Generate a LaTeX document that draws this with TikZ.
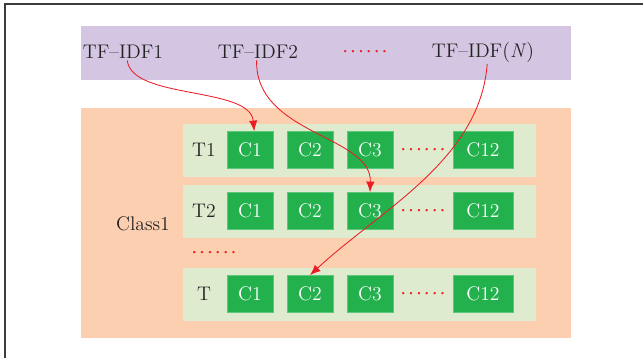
\documentclass[tikz,border=0pt]{standalone}
\usepackage{tikz}
\usetikzlibrary{arrows.meta,positioning}
\definecolor{bandpurple}{RGB}{212,198,226}
\definecolor{classorange}{RGB}{251,207,176}
\definecolor{rowgreen}{RGB}{222,235,206}
\definecolor{cellgreen}{RGB}{34,177,76}
\definecolor{celledge}{RGB}{90,200,120}
\definecolor{linkred}{RGB}{237,28,36}
\definecolor{framegray}{RGB}{60,60,60}
\definecolor{inkdark}{RGB}{35,35,35}

\begin{document}
\begin{tikzpicture}[x=0.025cm, y=-0.025cm,
  label/.style={font=\fontsize{14}{16}\selectfont, text=inkdark, inner sep=1pt},
  cell/.style={draw=celledge, line width=0.5pt, fill=cellgreen, text=white, font=\fontsize{14}{16}\selectfont, minimum width=1.15cm, minimum height=0.925cm, inner sep=0pt},
  reddots/.style={text=linkred, font=\fontsize{10.5}{12}\selectfont\boldmath, inner sep=0pt},
  link/.style={-{Latex[length=7.5pt, width=6pt]}, linkred, line width=0.6pt}]
  \useasboundingbox (0,0) rectangle (643,358);
  \draw[framegray, line width=1.2pt] (5,358) -- (5,4) -- (643,4);

  % TF-IDF band
  \fill[bandpurple] (81,26) rectangle (571,80);
  \node[label] (tf1) at (123,52) {TF--IDF1};
  \node[label] (tf2) at (258,52) {TF--IDF2};
  \node[reddots] (tfdots) at (365,52) {$\cdots\cdots$};
  \node[label] (tfn) at (483,52) {TF--IDF$($\textit{N}$)$};

  % class block with its rows
  \fill[classorange] (81,108) rectangle (571,338);
  \node[label] (class) at (143,224) {Class1};
  \node[reddots] (rowdots) at (214,253) {$\cdots\cdots$};

  \foreach \r/\t/\y in {r1/T1/150, r2/T2/211, rt/T/294} {
    \fill[rowgreen] (183,\y-26) rectangle (536,\y+27);
    \node[label] (\r t) at (204,\y) {\t};
    \node[cell] (\r c1) at (250,\y) {C1};
    \node[cell] (\r c2) at (310,\y) {C2};
    \node[cell] (\r c3) at (370,\y) {C3};
    \node[reddots] (\r dots) at (423,\y) {$\cdots\cdots$};
    \node[cell, minimum width=1.5cm] (\r c12) at (483,\y) {C12};
  }

  % links from the TF-IDF vectors
  \draw[link] ([xshift=3pt]tf1.south) .. controls (132,100) and (250,86) .. ([xshift=3pt]r1c1.north);
  \draw[link] ([xshift=-1pt]tf2.south) .. controls (255,135) and (372,135) .. (r2c3.north);
  \draw[link] ([xshift=3pt]tfn.south) .. controls (480,160) and (380,210) .. (rtc2.north);
\end{tikzpicture}
\end{document}
